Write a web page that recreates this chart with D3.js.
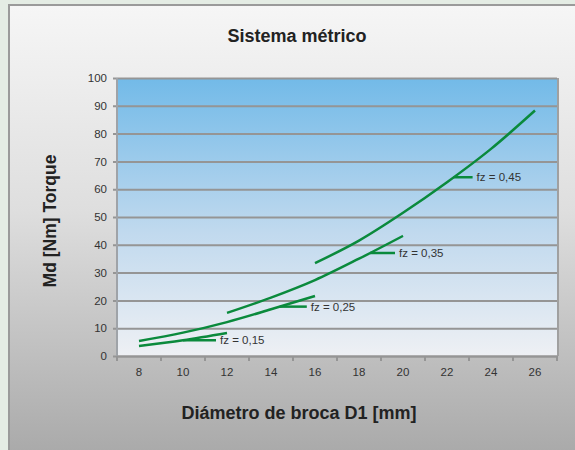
<!DOCTYPE html>
<html><head><meta charset="utf-8">
<script src="https://cdn.jsdelivr.net/npm/d3@7"></script>
<style>body{margin:0;background:#e4ece4;}svg{display:block;font-family:"Liberation Sans",Arial,sans-serif;}</style>
</head><body>
<svg id="c" width="575" height="450"></svg>
<script>
const categories = [8,10,12,14,16,18,20,22,24,26];
const yTicks = [0,10,20,30,40,50,60,70,80,90,100];
const fz015_x = [8,10,12];
const fz015_y = [3.6,5.7,8.3];
const fz025_x = [8,10,12,14,16];
const fz025_y = [5.4,8.4,12.2,16.8,21.6];
const fz035_x = [12,14,16,18,20];
const fz035_y = [15.5,21,27.3,35,43.2];
const fz045_x = [16,18,20,22,24,26];
const fz045_y = [33.4,41.5,51.5,62.5,74.5,88.3];
const seriesLabels = ["fz = 0,15","fz = 0,25","fz = 0,35","fz = 0,45"];
const labelAt = [10,14.4,18.5,22.3];

const svg = d3.select("#c");
const defs = svg.append("defs");
const fg = defs.append("linearGradient").attr("id","frame").attr("x1",0).attr("y1",0).attr("x2",0).attr("y2",1);
fg.append("stop").attr("offset","0%").attr("stop-color","#f6f6f6");
fg.append("stop").attr("offset","45%").attr("stop-color","#dedede");
fg.append("stop").attr("offset","100%").attr("stop-color","#a7a7a7");
const pg = defs.append("linearGradient").attr("id","plot").attr("x1",0).attr("y1",0).attr("x2",0).attr("y2",1);
pg.append("stop").attr("offset","0%").attr("stop-color","#72bae8");
pg.append("stop").attr("offset","55%").attr("stop-color","#c0d9ee");
pg.append("stop").attr("offset","100%").attr("stop-color","#eef0f4");

svg.append("rect").attr("x",9).attr("y",5).attr("width",580).attr("height",460)
  .attr("fill","url(#frame)").attr("stroke","#9a9a9a").attr("stroke-width",2);

const L=117,R=557,T=78,B=356;
const band = d3.scaleBand().domain(categories).range([L,R]);
const x = d3.scaleLinear().domain([8,26]).range([band(8)+band.bandwidth()/2, band(26)+band.bandwidth()/2]);
const y = d3.scaleLinear().domain([0,100]).range([B,T]);

svg.append("rect").attr("x",L).attr("y",T).attr("width",R-L).attr("height",B-T).attr("fill","url(#plot)");
svg.append("line").attr("x1",R+1).attr("x2",R+1).attr("y1",T).attr("y2",B).attr("stroke","#a0a0a0").attr("stroke-width",2);

const ya = svg.append("g").attr("transform",`translate(${L},0)`)
  .call(d3.axisLeft(y).tickValues(yTicks).tickSize(-(R-L)).tickSizeOuter(0).tickPadding(10));
ya.select(".domain").remove();
ya.selectAll(".tick line").attr("stroke","#959595").attr("stroke-width",2).attr("x1",-4);
ya.selectAll(".tick text").attr("fill","#333").attr("font-size","11.5px").attr("font-family","Liberation Sans, Arial, sans-serif");
svg.append("line").attr("x1",L).attr("x2",L).attr("y1",T).attr("y2",B+1).attr("stroke","#9fa3a8").attr("stroke-width",2);

const xa = svg.append("g").attr("transform",`translate(0,${B})`)
  .call(d3.axisBottom(band).tickSize(0).tickPadding(12));
xa.select(".domain").attr("stroke","#959595").attr("stroke-width",2);
xa.selectAll(".tick text").attr("fill","#333").attr("font-size","11.5px").attr("font-family","Liberation Sans, Arial, sans-serif");
const bnd = categories.map(c=>band(c)).concat([R]);
svg.append("g").selectAll("line").data(bnd).join("line")
  .attr("x1",d=>d).attr("x2",d=>d).attr("y1",B).attr("y2",B+5).attr("stroke","#959595").attr("stroke-width",2);

const series = [[fz015_x,fz015_y],[fz025_x,fz025_y],[fz035_x,fz035_y],[fz045_x,fz045_y]];
const line = d3.line().x(d=>x(d[0])).y(d=>y(d[1])).curve(d3.curveMonotoneX);
series.forEach((s,i)=>{
  const pts = s[0].map((v,j)=>[v,s[1][j]]);
  svg.append("path").attr("d",line(pts)).attr("fill","none").attr("stroke","#0a8a3c").attr("stroke-width",2.5);
  const lx = labelAt[i];
  let ly = s[1][0];
  for(let j=0;j<s[0].length-1;j++){ if(lx>=s[0][j]&&lx<=s[0][j+1]){ ly = s[1][j]+(s[1][j+1]-s[1][j])*(lx-s[0][j])/(s[0][j+1]-s[0][j]); } }
  const px = x(lx), py = y(ly);
  const len = [33,27,25,19][i];
  svg.append("line").attr("x1",px).attr("x2",px+len).attr("y1",py).attr("y2",py).attr("stroke","#0a8a3c").attr("stroke-width",2.5);
  svg.append("text").attr("x",px+len+4).attr("y",py+4).attr("font-size","11.5px").attr("fill","#333").text(seriesLabels[i]);
});

svg.append("text").attr("x",297).attr("y",42).attr("text-anchor","middle").attr("font-size","18px").attr("font-weight","bold").attr("fill","#222").text("Sistema métrico");
svg.append("text").attr("x",299).attr("y",419).attr("text-anchor","middle").attr("font-size","18px").attr("font-weight","bold").attr("fill","#222").text("Diámetro de broca D1 [mm]");
svg.append("text").attr("transform","translate(56,221) rotate(-90)").attr("text-anchor","middle").attr("font-size","17.5px").attr("font-weight","bold").attr("fill","#222").text("Md [Nm] Torque");
</script>
</body></html>
